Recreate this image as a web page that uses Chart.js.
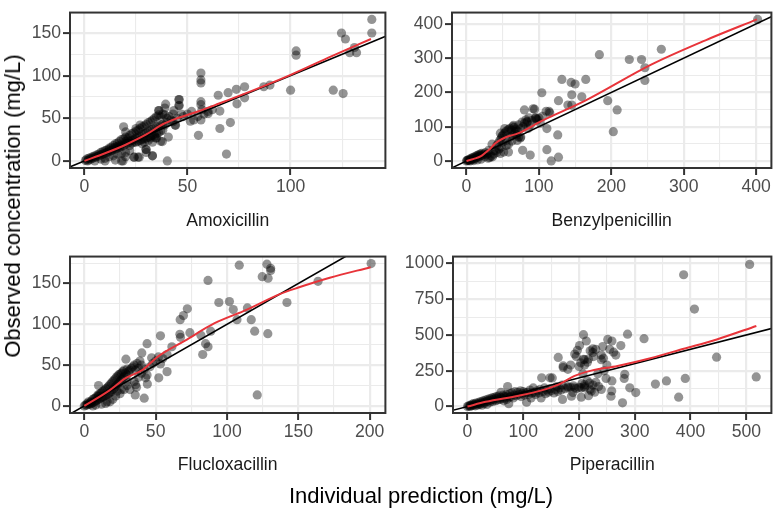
<!DOCTYPE html>
<html><head><meta charset="utf-8">
<script src="https://cdn.jsdelivr.net/npm/chart.js@4.4.1/dist/chart.umd.min.js"></script>
<style>
html,body{margin:0;padding:0;background:#fff;width:776px;height:509px;overflow:hidden;font-family:"Liberation Sans",Arial,sans-serif;}
.p{position:absolute;}
#ytitle{position:absolute;left:13px;top:206px;transform:translate(-50%,-50%) rotate(-90deg);font-size:22px;white-space:nowrap;color:#000;}
#xtitle{position:absolute;left:421px;top:496px;transform:translate(-50%,-50%);font-size:22px;white-space:nowrap;color:#000;}
</style></head><body>
<div class="p" style="left:0;top:0;width:390px;height:244px"><canvas id="c1"></canvas></div>
<div class="p" style="left:390px;top:0;width:386px;height:244px"><canvas id="c2"></canvas></div>
<div class="p" style="left:0;top:244px;width:390px;height:244px"><canvas id="c3"></canvas></div>
<div class="p" style="left:390px;top:244px;width:386px;height:244px"><canvas id="c4"></canvas></div>
<div id="ytitle">Observed concentration (mg/L)</div>
<div id="xtitle">Individual prediction (mg/L)</div>
<script>
// ---------- DATA ----------
const drugs = ["Amoxicillin", "Benzylpenicillin", "Flucloxacillin", "Piperacillin"];

// Amoxicillin: individual prediction (x) and observed concentration (y)
const amoxPred = [0.5,1,1.5,2,2,3,3,4,4,5,5,6,6,7,7,8,8,9,9,10,10,11,11,12,12,12,13,13,14,14,14,15,15,15,16,16,16,17,17,17,18,18,18,18,19,19,19,20,20,20,20,21,21,21,22,22,22,23,23,23,24,24,24,24,25,25,25,25,26,26,26,26,27,27,27,27,28,28,28,28,29,29,29,29,30,30,30,30,30,31,31,31,31,32,32,32,32,33,33,33,33,33,34,34,34,34,35,35,35,35,36,36,36,36,37,37,37,37,38,38,38,39,39,39,40,40,41,42,43,43,44,45,46,46,47,48,50,52,53,55,57,58,60,62,5,8,10,12,14,16,18,20,22,15,10,20,
139.4,139.4,124.7,126.6,131,128.7,132,102.7,102.7,100,120.7,125.5,90,87,77.7,73.7,77.7,74,69.7,64.9,65.7,70.8,65.7,68.9,56.5,56.5,56.5,56.5,56.5,56.5,55.3,60,51.4,45.8,45.8,44.2,40.7,40.2,33,29.8,26.6,24.2,18.7,34.6,37.8,36.2,43.4,39.4];
const amoxObs = [0.5,2,0,3,1,4,2,5,3,6,4,7,5,8,6,10,7,11,8,12,9,13,10,15,11,13,16,12,18,13,15,20,14,16,21,15,17,23,16,18,25,17,19,0,26,18,40,28,20,23,34,27,21,24,30,23,18,32,24,21,33,25,22,4.4,35,27,22,38,36,28,23,4.4,38,29,24,42,40,31,25,20,41,32,26,22,43,33,27,13.5,10,45,35,28,24,46,36,29,27,48,37,30,6,22,50,38,31,29,52,40,32,27,54,41,33,59,52,42,35,23,55,43,36,54,42,62,50,45,52,48,55,46,42,50,72,65,55,52,55,58,48,52,60,55,58,60,0,2,3,5,6,8,9,10,12,1,0,5,
166,150,150,143,133,127,127,129,124,83,83,79,89,87,87,84,74,67,80,77,58.5,45,38,8,103,95,91.5,69.5,66,48,30,55.6,46.5,72,65,41.7,28,0,6,13.5,4.4,4.4,0,27,22.7,59,59,66.6];
const amoxSmoothX = [0,10,20,30,38,45,55,65,80,100,120,139];
const amoxSmoothY = [0,9,19,31,43,50,58,67,81,101,123,143];

// Benzylpenicillin
const benzPred = [402,269,183.5,224.8,241.7,246.3,246.3,131.7,164.7,144.5,150,104,145.4,159.2,127,140,145.4,195,208,80,94,114,86,95.6,96.5,83.5,76.6,65,111,202.7,126,77.5,88,111,127,117,49,46.8,52.8,67.4,69.7,74.3,62.8,58,46.8,51.4,58,35.3,30.7,
0,1,2,3,4,5,6,7,8,9,10,11,12,13,14,15,16,17,18,19,20,21,22,24,25,26,28,30,32,34,36,38,30,20,15,10,5,40,42,44,46,48,50,52,54,56,58,60,62,64,66,68,70,72,75,78,80,82,84,88,90,92,95,98,100,102,105,110,115,60,64,66,72,85,50,55,48,45,42,38,55,70,75];
const benzObs = [413,326,310,296,296,272,235,238,238,229,224.5,199,193,187,176,163,163,176,149,149,151,144.5,126,126,122,113,113,104,94.5,85.5,76,31,17,33,11,0,72,81,94.5,85.5,76,67,58,49,22,26,26,49,31,
0,2,1,4,2,6,3,8,5,10,6,12,8,14,10,16,12,18,14,20,15,22,17,20,12,24,18,22,10,14,12,20,8,5,3,1,0,30,45,52,60,66,75,80,85,88,92,95,90,100,98,93,88,105,95,100,110,120,115,105,118,152,125,120,125,110,130,145,140,70,75,80,70,95,55,60,40,35,25,30,45,60,70];
const benzSmoothX = [0,10,20,26,32,38,44,55,72,104,164,255,330,401];
const benzSmoothY = [0,6,14,24,34,48,58,70,81,117,176,281,352,413];

// Flucloxacillin
const fluxPred = [201,163.8,108.6,128,130.6,130.6,124.7,128.8,86.7,94.3,101.7,142,104.4,114.3,72.2,69.5,67.2,107,117,119.4,128.6,88.6,81.7,86.7,85,83,74,67,67.4,61.4,58,53.4,58,52.2,53.4,44,40.3,29.2,47.2,44.2,42,121.2,35.7,43,36.6,
0,1,2,2,3,3,4,4,5,5,6,6,7,7,8,8,9,9,10,10,10,11,11,12,12,13,13,14,14,15,15,16,16,17,17,18,18,19,19,20,20,21,21,22,22,23,23,24,24,25,25,26,26,27,27,28,28,29,30,30,31,32,33,34,35,36,37,38,39,40,20,22,25,28,30,32,35,38,40,42,44,46,48,50,52,55,18,15,12,8,10,30,26,23,36,16,6];
const fluxObs = [174.4,152.7,172.5,173.7,168.7,166,158.4,156.5,153.8,126.7,127.9,126.7,118,120,119,110.7,105.7,105.7,105.7,91.6,88.5,91.6,86.6,72.5,76.3,63,89.7,87.8,84,72.5,63,85.9,42,34.4,51.5,76.3,64.9,57.3,59,26.7,9.5,13.4,13.4,34.4,23,
0,1,3,1,2,5,4,2,6,3,8,4,9,5,10,6,12,7,14,8,25,15,9,16,10,18,11,19,12,21,13,22,14,24,15,26,16,28,18,30,20,32,22,34,24,36,26,38,28,39,30,40,32,42,34,44,36,40,45,38,42,44,46,48,50,44,52,46,55,50,8,12,15,20,25,20,30,35,40,45,38,48,52,55,60,58,5,3,2,1,12,30,20,18,26,5,0];
const fluxSmoothX = [0,17.7,29,40.7,52,70.6,91,114,137,150,172,200.6];
const fluxSmoothY = [0,19,34,44,61,80,101,118,137,145,157,170];

// Piperacillin
const pipPred = [506,387.6,407,316.6,287,208,446.7,517.8,390.5,356.8,337,378.7,301.8,291,259,281,282,275,266,259,251.5,242.6,240,243.8,224.8,224.8,213,201,192.3,197,210,210,203,217,226,240,162.7,171.6,171.6,207,233.7,248.5,258.6,257.4,278,210,219,210,204,186.4,170.4,133,148,204,192,180.5,222,217,189,
0,2,4,5,6,8,10,10,12,14,15,16,18,20,20,22,24,25,26,28,30,30,32,34,35,36,38,40,40,42,44,45,46,48,50,50,52,54,55,56,58,60,60,62,64,65,66,68,70,70,72,72,74,75,76,78,80,82,84,85,88,90,92,95,96,98,100,102,104,106,108,110,112,114,116,118,120,122,125,128,130,132,135,138,140,142,145,148,150,152,155,158,160,162,165,168,170,175,180,185,190,195,200,205,210,215,220,225,228,230,235,240,245,250,255,262,230,220,215,208,195,200,185,180];
const pipObs = [993,921,681,474,506,502,345,207,196.5,179,157,65.5,98,131,179,196.5,225,426,360,458,469,419,360,338,404,378,458,426,367,393,327.5,290,305.7,332,349,327.5,343,284,273,229,229,196.5,109,72,26,153,164,131,65.5,72,50,201,201,131,131,131,109,76,98,
0,5,3,10,2,12,8,20,15,5,25,18,10,30,20,15,35,25,10,40,30,20,45,35,15,50,40,55,30,45,60,35,50,65,40,55,70,45,60,75,50,65,100,55,80,40,70,60,85,50,140,75,20,65,90,70,95,60,80,105,75,100,85,110,70,90,105,80,95,30,100,85,115,60,95,130,100,85,110,95,120,60,105,130,90,115,100,125,110,200,95,120,140,105,130,115,150,125,140,135,145,125,135,160,140,180,120,150,100,170,140,120,250,290,400,380,400,390,310,330,350,280,290,260];
const pipSmoothX = [0,32.5,92,133,163,192,222,269,328,388,447,518];
const pipSmoothY = [0,33,76,113,153,214,251,284,338,404,469,563];

// Axis ticks (major labelled, minor unlabelled) and limits
const amoxXMajor = [0,50,100], amoxXMinor = [25,75,125], amoxYMajor = [0,50,100,150], amoxYMinor = [25,75,125];
const benzXMajor = [0,100,200,300,400], benzXMinor = [50,150,250,350], benzYMajor = [0,100,200,300,400], benzYMinor = [50,150,250,350];
const fluxXMajor = [0,50,100,150,200], fluxXMinor = [25,75,125,175], fluxYMajor = [0,50,100,150], fluxYMinor = [25,75,125,175];
const pipXMajor = [0,100,200,300,400,500], pipXMinor = [50,150,250,350,450], pipYMajor = [0,250,500,750,1000], pipYMinor = [125,375,625,875];
const amoxLim = [-7, 146, -8.3, 174];
const benzLim = [-20, 421, -20.6, 433];
const fluxLim = [-10, 211, -8.7, 183];
const pipLim = [-26, 545, -45, 1048];

// ---------- CHARTS ----------
const FONT = '"Liberation Sans", Arial, sans-serif';
const borderPlugin = {
  id: 'panelBorder',
  afterDatasetsDraw(chart) {
    const a = chart.chartArea, c = chart.ctx;
    c.save(); c.strokeStyle = '#333333'; c.lineWidth = 2;
    c.strokeRect(a.left, a.top, a.right - a.left, a.bottom - a.top);
    c.restore();
  }
};
function axis(major, minor, lim0, lim1, extra) {
  const all = major.concat(minor).sort((a, b) => a - b);
  const isMaj = ctx => ctx.tick && major.includes(ctx.tick.value);
  return Object.assign({
    type: 'linear', min: lim0, max: lim1,
    afterBuildTicks: s => { s.ticks = all.map(v => ({ value: v })); },
    ticks: { autoSkip: false, maxRotation: 0, color: '#4d4d4d', padding: 2,
      font: { family: FONT, size: 17.6 },
      callback: v => major.includes(v) ? String(v) : '' },
    grid: { color: '#ebebeb', lineWidth: ctx => isMaj(ctx) ? 2.2 : 1.1,
      tickColor: ctx => isMaj(ctx) ? '#333333' : 'rgba(0,0,0,0)', tickLength: 7, tickWidth: 2 },
    border: { display: false }
  }, extra);
}
function make(id, name, px, py, sx, sy, xMaj, xMin, yMaj, yMin, lim, yW, xH, pad) {
  new Chart(document.getElementById(id), {
    type: 'scatter',
    data: { datasets: [
      { type: 'line', data: sx.map((v, i) => ({ x: v, y: sy[i] })), borderColor: '#e8343a', borderWidth: 2,
        pointRadius: 0, fill: false, cubicInterpolationMode: 'monotone', clip: 0 },
      { type: 'line', data: [{ x: -100, y: -100 }, { x: 2000, y: 2000 }], borderColor: '#000000', borderWidth: 1.6,
        pointRadius: 0, fill: false, clip: 0 },
      { data: px.map((v, i) => ({ x: v, y: py[i] })), backgroundColor: 'rgba(0,0,0,0.42)', borderWidth: 0, pointRadius: 4.6 }
    ] },
    options: {
      responsive: true, maintainAspectRatio: false, animation: false, events: [],
      layout: { padding: pad },
      plugins: { legend: { display: false }, tooltip: { enabled: false } },
      scales: {
        x: axis(xMaj, xMin, lim[0], lim[1], {
          afterFit: s => { s.height = xH; },
          title: { display: true, text: name, color: '#1a1a1a', font: { family: FONT, size: 17.6 }, padding: { top: 0, bottom: 12.5 } }
        }),
        y: axis(yMaj, yMin, lim[2], lim[3], { afterFit: s => { s.width = yW; } })
      }
    },
    plugins: [borderPlugin]
  });
}
make('c1', drugs[0], amoxPred, amoxObs, amoxSmoothX, amoxSmoothY, amoxXMajor, amoxXMinor, amoxYMajor, amoxYMinor, amoxLim, 70, 76, { top: 3, right: 1, left: 0, bottom: 0 });
make('c2', drugs[1], benzPred, benzObs, benzSmoothX, benzSmoothY, benzXMajor, benzXMinor, benzYMajor, benzYMinor, benzLim, 62, 76, { top: 3, right: 4, left: 0, bottom: 0 });
make('c3', drugs[2], fluxPred, fluxObs, fluxSmoothX, fluxSmoothY, fluxXMajor, fluxXMinor, fluxYMajor, fluxYMinor, fluxLim, 70, 75, { top: 3, right: 1, left: 0, bottom: 0 });
make('c4', drugs[3], pipPred, pipObs, pipSmoothX, pipSmoothY, pipXMajor, pipXMinor, pipYMajor, pipYMinor, pipLim, 63, 75, { top: 3, right: 3, left: 0, bottom: 0 });
</script>
</body></html>
